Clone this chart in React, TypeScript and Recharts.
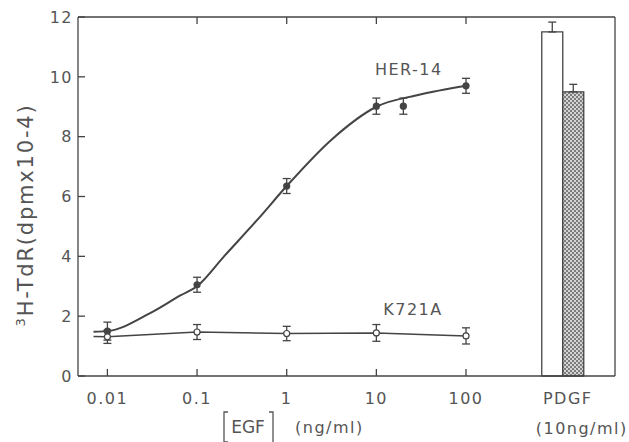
import React from 'react';
import {
  ComposedChart,
  Line,
  Scatter,
  Bar,
  XAxis,
  YAxis,
  ErrorBar,
  ReferenceDot,
} from 'recharts';

const INK = '#444';
const TEXT = '#555';
const FONT = '"DejaVu Sans", sans-serif';
const TICK = 7; // inward tick length

// HER-14 cells, EGF dose (ng/ml) -> 3H-TdR (dpm x 10^-4)
const herDoses = [0.01, 0.1, 1, 10, 20, 100];
const herMeans = [1.5, 3.05, 6.35, 9.02, 9.02, 9.7];
const herErrors = [0.3, 0.25, 0.25, 0.27, 0.27, 0.25];

// K721A cells
const k721Doses = [0.01, 0.1, 1, 10, 100];
const k721Means = [1.31, 1.47, 1.42, 1.44, 1.34];
const k721Errors = [0.22, 0.25, 0.24, 0.28, 0.27];

// fitted curve drawn through the HER-14 points
const herCurveDoses = [0.007, 0.01, 0.03, 0.066, 0.1, 0.2, 0.48, 1, 3.16, 10, 30, 100];
const herCurveValues = [1.48, 1.5, 2.1, 2.7, 3.0, 4.0, 5.25, 6.35, 7.9, 9.0, 9.4, 9.7];

const k721LineDoses = [0.007, 0.01, 0.1, 1, 10, 100];
const k721LineValues = [1.32, 1.31, 1.47, 1.42, 1.44, 1.34];

// PDGF (10 ng/ml) control, placed right of the dose axis
const pdgfDose = 1200;
const pdgfValues = [11.5, 9.5]; // HER-14, K721A
const pdgfErrors = [0.33, 0.25];

const xTicks = [0.01, 0.1, 1, 10, 100];
const xTickLabels = ['0.01', '0.1', '1', '10', '100'];
const topTicks = [0.1, 1, 10, 100];
const yTicks = [0, 2, 4, 6, 8, 10, 12];

const xDomain = [0.0047, 4590];

const herPoints = herDoses.map((x, i) => ({ x, y: herMeans[i], err: herErrors[i] }));
const k721Points = k721Doses.map((x, i) => ({ x, y: k721Means[i], err: k721Errors[i] }));
const herCurve = herCurveDoses.map((x, i) => ({ x, y: herCurveValues[i] }));
const k721Line = k721LineDoses.map((x, i) => ({ x, y: k721LineValues[i] }));
const pdgfData = [
  {
    x: pdgfDose,
    her: pdgfValues[0],
    k721: pdgfValues[1],
    herErr: [0, pdgfErrors[0]],
    k721Err: [0, pdgfErrors[1]],
  },
];

const textStyle = { fontFamily: FONT, fontSize: 16, letterSpacing: 1.5, fill: TEXT };
const X_MARGIN = 17;
const Y_MARGIN = 5;

const XTick = (props: any) => {
  const { x, y, payload } = props;
  if (payload.value === pdgfDose) {
    return (
      <g>
        <text x={x + 5} y={y} dy="0.71em" textAnchor="middle" {...textStyle}>
          PDGF
        </text>
        <text x={x + 19} y={y + 30} dy="0.71em" textAnchor="middle" {...textStyle}>
          (10ng/ml)
        </text>
      </g>
    );
  }
  const idx = xTicks.indexOf(payload.value);
  const axisY = y - X_MARGIN;
  return (
    <g>
      <line x1={x} x2={x} y1={axisY} y2={axisY - TICK} stroke={INK} strokeWidth={1.3} />
      <text x={x} y={y} dy="0.71em" textAnchor="middle" {...textStyle}>
        {xTickLabels[idx]}
      </text>
    </g>
  );
};

const YTick = (props: any) => {
  const { x, y, payload } = props;
  const axisX = x + Y_MARGIN;
  return (
    <g>
      <line x1={axisX} x2={axisX + TICK} y1={y} y2={y} stroke={INK} strokeWidth={1.3} />
      <text x={x} y={y} dy="0.36em" textAnchor="end" {...textStyle}>
        {payload.value}
      </text>
    </g>
  );
};

// tick marks hanging down from the top frame, no labels
const TopTick = (props: any) => (
  <line x1={props.x} x2={props.x} y1={props.y} y2={props.y + TICK} stroke={INK} strokeWidth={1.3} />
);

const EgfLabel = () => (
  <g>
    <path d="M228,412 L224,412 L224,442 M224,442 L228,442" stroke={TEXT} strokeWidth={1.3} fill="none" />
    <path d="M269,412 L273,412 L273,442" stroke={TEXT} strokeWidth={1.3} fill="none" />
    <text x={248} y={433} textAnchor="middle" fontFamily={FONT} fontSize={17} fill={TEXT}>
      EGF
    </text>
    <text x={295} y={433} fontFamily={FONT} fontSize={16} letterSpacing={1.5} fill={TEXT}>
      (ng/ml)
    </text>
  </g>
);

const YLabel = () => (
  <text
    x={33}
    y={215}
    transform="rotate(-90, 33, 215)"
    textAnchor="middle"
    fontFamily={FONT}
    fontSize={21}
    letterSpacing={1.8}
    fill={TEXT}
  >
    <tspan fontSize={13} dy={-8}>3</tspan>
    <tspan dy={8}>H-TdR(dpmx10-4)</tspan>
  </text>
);

const FilledDot = (props: any) => <circle cx={props.cx} cy={props.cy} r={3.6} fill={INK} />;
const OpenDot = (props: any) => (
  <circle cx={props.cx} cy={props.cy} r={3} fill="#fff" stroke={INK} strokeWidth={1.2} />
);

const seriesLabel = (text: string) => (props: any) => {
  const vb = props.viewBox || {};
  return (
    <text
      x={vb.x + (vb.width || 0) / 2}
      y={vb.y + (vb.height || 0) / 2}
      textAnchor="middle"
      dominantBaseline="central"
      {...textStyle}
    >
      {text}
    </text>
  );
};

export default function App() {
  return (
    <div style={{ position: 'absolute', left: 0, top: 0, width: 629, height: 442, background: '#fff' }}>
      <ComposedChart
        width={629}
        height={442}
        data={pdgfData}
        margin={{ top: 16, right: 13, bottom: 26, left: 0 }}
        barGap={0}
      >
        <defs>
          <pattern id="checker" width="4" height="4" patternUnits="userSpaceOnUse">
            <rect width="4" height="4" fill="#d4d4d4" />
            <rect width="2" height="2" fill="#7c7c7c" />
            <rect x="2" y="2" width="2" height="2" fill="#7c7c7c" />
          </pattern>
        </defs>
        <XAxis
          dataKey="x"
          type="number"
          scale="log"
          domain={xDomain}
          allowDataOverflow
          ticks={[...xTicks, pdgfDose]}
          tick={<XTick />}
          tickLine={false}
          tickSize={0}
          tickMargin={X_MARGIN}
          height={40}
          stroke={INK}
          strokeWidth={1.3}
          label={{ content: () => <EgfLabel /> }}
        />
        <XAxis
          xAxisId="bars"
          dataKey="x"
          type="number"
          scale="log"
          domain={xDomain}
          allowDataOverflow
          ticks={[pdgfDose]}
          hide
        />
        <XAxis
          xAxisId="top"
          orientation="top"
          dataKey="x"
          type="number"
          scale="log"
          domain={xDomain}
          allowDataOverflow
          ticks={topTicks}
          tick={<TopTick />}
          tickLine={false}
          tickSize={0}
          tickMargin={0}
          height={1}
          stroke={INK}
          strokeWidth={1.3}
        />
        <YAxis
          dataKey="y"
          type="number"
          domain={[0, 12]}
          ticks={yTicks}
          tick={<YTick />}
          tickLine={false}
          tickSize={0}
          tickMargin={Y_MARGIN}
          width={78}
          stroke={INK}
          strokeWidth={1.3}
          label={{ content: () => <YLabel /> }}
        />
        <YAxis
          yAxisId="right"
          orientation="right"
          type="number"
          domain={[0, 12]}
          width={1}
          tick={false}
          tickLine={false}
          stroke={INK}
          strokeWidth={1.3}
        />
        <Line
          data={herCurve}
          dataKey="y"
          type="monotone"
          stroke={INK}
          strokeWidth={2}
          dot={false}
          isAnimationActive={false}
        />
        <Line
          data={k721Line}
          dataKey="y"
          type="linear"
          stroke={INK}
          strokeWidth={1.5}
          dot={false}
          isAnimationActive={false}
        />
        <Scatter data={herPoints} dataKey="y" shape={<FilledDot />} isAnimationActive={false}>
          <ErrorBar dataKey="err" direction="y" width={4} stroke={INK} strokeWidth={1.3} />
        </Scatter>
        <Scatter data={k721Points} dataKey="y" shape={<OpenDot />} isAnimationActive={false}>
          <ErrorBar dataKey="err" direction="y" width={4} stroke={INK} strokeWidth={1.3} />
        </Scatter>
        <Bar xAxisId="bars" dataKey="her" barSize={21} fill="#fff" stroke={INK} strokeWidth={1.3} isAnimationActive={false}>
          <ErrorBar dataKey="herErr" direction="y" width={4} stroke={INK} strokeWidth={1.3} />
        </Bar>
        <Bar xAxisId="bars" dataKey="k721" barSize={21} fill="url(#checker)" stroke={INK} strokeWidth={1.3} isAnimationActive={false}>
          <ErrorBar dataKey="k721Err" direction="y" width={4} stroke={INK} strokeWidth={1.3} />
        </Bar>
        <ReferenceDot x={23} y={10.26} r={0} fill="none" stroke="none" label={{ content: seriesLabel('HER-14') }} />
        <ReferenceDot x={25.6} y={2.21} r={0} fill="none" stroke="none" label={{ content: seriesLabel('K721A') }} />
      </ComposedChart>
    </div>
  );
}
